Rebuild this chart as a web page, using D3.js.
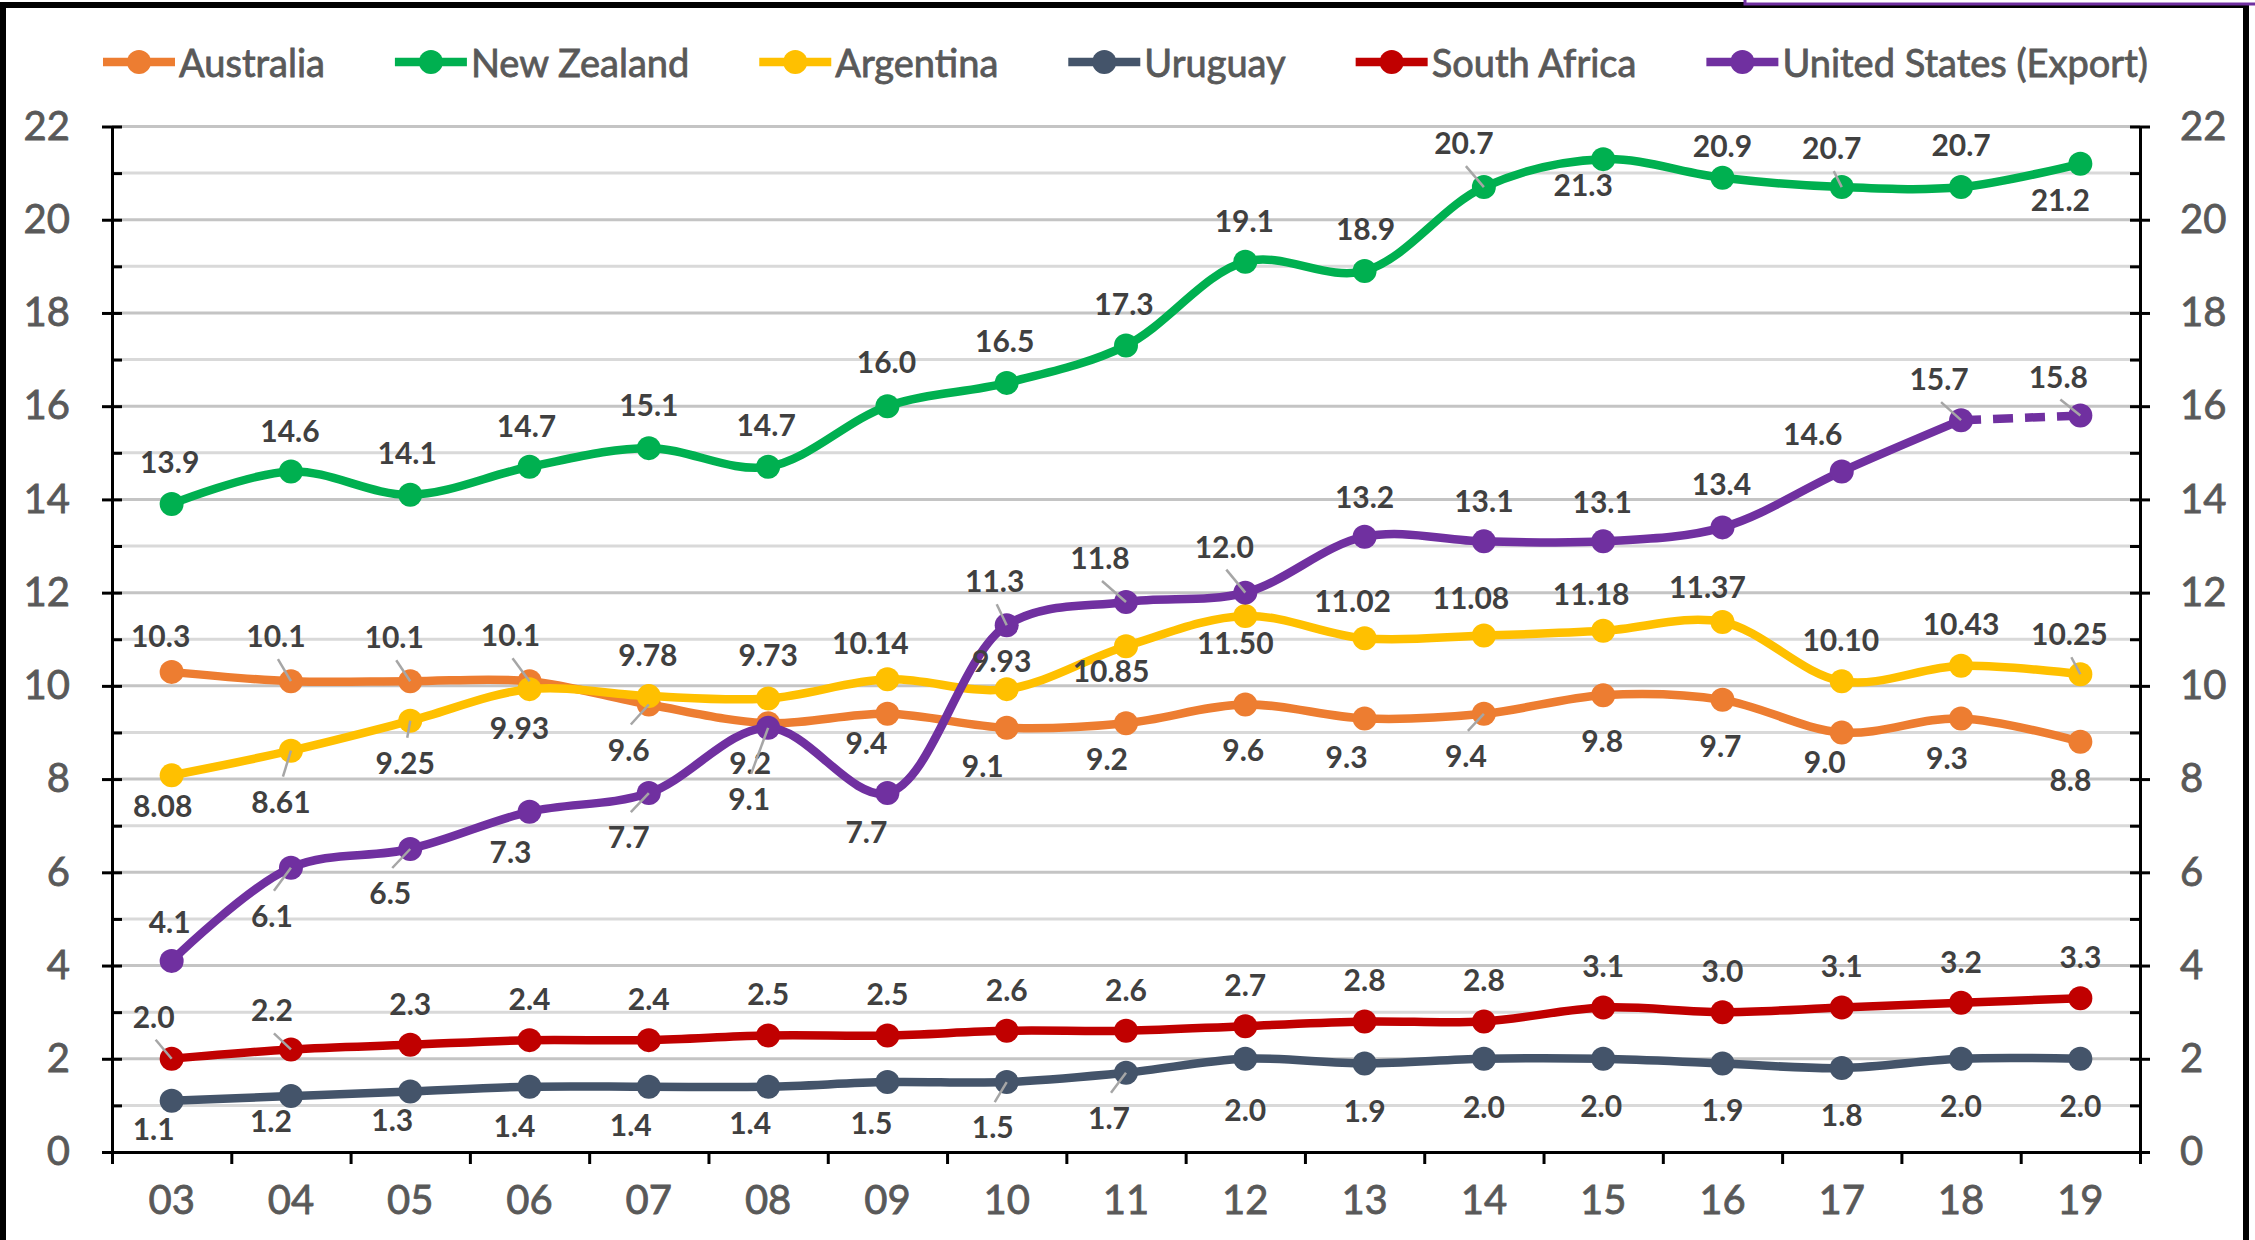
<!DOCTYPE html>
<html>
<head>
<meta charset="utf-8">
<script src="https://cdn.jsdelivr.net/npm/d3@7"></script>
<style>
  body { margin: 0; background: #fff; }
  svg { display: block; }
  text { font-family: Lato, "Open Sans", sans-serif; }
</style>
</head>
<body>
<svg id="chart" width="2255" height="1240"></svg>
<script>
// ---- data ----
const years = ['03','04','05','06','07','08','09','10','11','12','13','14','15','16','17','18','19'];
const seriesNames = ['Australia','New Zealand','Argentina','Uruguay','South Africa','United States (Export)'];
const australia   = [10.3,10.1,10.1,10.1,9.6,9.2,9.4,9.1,9.2,9.6,9.3,9.4,9.8,9.7,9.0,9.3,8.8];
const newZealand  = [13.9,14.6,14.1,14.7,15.1,14.7,16.0,16.5,17.3,19.1,18.9,20.7,21.3,20.9,20.7,20.7,21.2];
const argentina   = [8.08,8.61,9.25,9.93,9.78,9.73,10.14,9.93,10.85,11.50,11.02,11.08,11.18,11.37,10.10,10.43,10.25];
const uruguay     = [1.1,1.2,1.3,1.4,1.4,1.4,1.5,1.5,1.7,2.0,1.9,2.0,2.0,1.9,1.8,2.0,2.0];
const southAfrica = [2.0,2.2,2.3,2.4,2.4,2.5,2.5,2.6,2.6,2.7,2.8,2.8,3.1,3.0,3.1,3.2,3.3];
const unitedStates= [4.1,6.1,6.5,7.3,7.7,9.1,7.7,11.3,11.8,12.0,13.2,13.1,13.1,13.4,14.6,15.7,15.8];
// label text as printed (Argentina shows two decimals)
const labelDecimals = [1,1,2,1,1,1];
const yTicks = [0,2,4,6,8,10,12,14,16,18,20,22];

// ---- styling / label placement ----
const colors = ['#ED7D31','#00B050','#FFC000','#44546A','#C00000','#7030A0'];
// label offsets from the marker, in px
const labelOffsets = [
  [[-11,-37],[-15,-46],[-16,-45],[-19,-47],[-20,44],[-18,39],[-21,28],[-24,37],[-19,35],[-2,44],[-18,38],[-18,41],[-1,45],[-2,45],[-17,29],[-14,39],[-10,37]],
  [[-2,-43],[-1,-41],[-3,-43],[-3,-42],[0,-44],[-2,-43],[-1,-45],[-2,-43],[-2,-43],[-1,-42],[1,-43],[-20,-45],[-20,25],[0,-33],[-10,-40],[0,-43],[-20,35]],
  [[-9,30],[-10,50],[-5,41],[-10,38],[-1,-42],[0,-44],[-17,-37],[-5,-29],[-15,24],[-10,26],[-12,-38],[-13,-39],[-12,-38],[-15,-36],[-1,-42],[0,-43],[-11,-41]],
  [[-18,27],[-20,24],[-18,28],[-15,38],[-18,37],[-18,35],[-16,40],[-14,44],[-17,44],[0,50],[0,47],[0,47],[-2,46],[0,46],[0,46],[0,46],[0,46]],
  [[-18,-43],[-19,-40],[0,-42],[0,-42],[0,-42],[0,-42],[0,-42],[0,-42],[0,-42],[0,-42],[0,-42],[0,-42],[0,-42],[0,-42],[0,-42],[0,-42],[0,-42]],
  [[-2,-40],[-19,47],[-20,43],[-19,39],[-20,43],[-19,70],[-21,38],[-12,-45],[-26,-45],[-21,-47],[0,-41],[0,-41],[-1,-40],[-1,-44],[-29,-38],[-22,-42],[-22,-40]]
];
// which labels carry a leader line
const leaders = [[1,2,3,4,11],[11,14],[1,2,16],[7,8],[0,1],[1,2,4,5,7,8,9,15,16]];

const allSeries = [australia, newZealand, argentina, uruguay, southAfrica, unitedStates];

const svg = d3.select('#chart');
const W = 2255, H = 1240;
const plotLeft = 112, plotRight = 2140, plotTop = 126.5, plotBottom = 1152;

// frame
svg.append('rect').attr('x', 3).attr('y', 5).attr('width', 2243).attr('height', H + 20)
  .attr('fill', 'none').attr('stroke', '#000').attr('stroke-width', 6);
svg.append('rect').attr('x', 1745).attr('y', -20).attr('width', 600).attr('height', 24)
  .attr('fill', '#fff').attr('stroke', '#7030A0').attr('stroke-width', 3);

const x = d3.scaleBand().domain(years).range([plotLeft, plotRight]).padding(0);
const cx = d => x(d) + x.bandwidth() / 2;
const y = d3.scaleLinear().domain([0, 22]).range([plotBottom, plotTop]);

// gridlines every unit
const grid = svg.append('g');
grid.selectAll('line').data(d3.range(1, 23)).enter().append('line')
  .attr('x1', plotLeft).attr('x2', plotRight)
  .attr('y1', d => y(d)).attr('y2', d => y(d))
  .attr('stroke', d => d % 2 === 0 ? '#c4c4c4' : '#d9d9d9')
  .attr('stroke-width', 3);

function styleAxis(g) {
  g.select('.domain').attr('stroke', '#000').attr('stroke-width', 3);
  g.selectAll('.tick line').attr('stroke', '#000').attr('stroke-width', 3);
  g.selectAll('.tick text').attr('fill', '#595959').attr('stroke', '#595959').attr('stroke-width', 0.8)
    .style('font-size', '40px');
}
// y axes, major ticks cross the axis line
const yl = svg.append('g').attr('transform', `translate(${plotLeft},0)`)
  .call(d3.axisLeft(y).tickValues(yTicks).tickSizeInner(10).tickSizeOuter(0).tickPadding(32).tickFormat(d3.format('d')));
styleAxis(yl);
yl.selectAll('.tick line').attr('x1', 10);
const yr = svg.append('g').attr('transform', `translate(${plotRight},0)`)
  .call(d3.axisRight(y).tickValues(yTicks).tickSizeInner(10).tickSizeOuter(0).tickPadding(30).tickFormat(d3.format('d')));
styleAxis(yr);
yr.selectAll('.tick line').attr('x1', -10);
// minor ticks (inside only)
const minor = d3.range(1, 22, 2);
const ml = svg.append('g').attr('transform', `translate(${plotLeft},0)`)
  .call(d3.axisRight(y).tickValues(minor).tickSize(10).tickFormat(''));
styleAxis(ml); ml.select('.domain').remove();
const mr = svg.append('g').attr('transform', `translate(${plotRight},0)`)
  .call(d3.axisLeft(y).tickValues(minor).tickSize(10).tickFormat(''));
styleAxis(mr); mr.select('.domain').remove();

// x axis: labels at centres, ticks at band edges
const xl = svg.append('g').attr('transform', `translate(0,${plotBottom})`)
  .call(d3.axisBottom(x).tickSize(0).tickPadding(34));
styleAxis(xl);
xl.select('.domain').remove();
const edges = d3.scaleLinear().domain([0, years.length]).range([plotLeft, plotRight]);
const xt = svg.append('g').attr('transform', `translate(0,${plotBottom})`)
  .call(d3.axisBottom(edges).tickValues(d3.range(years.length + 1)).tickSize(12).tickSizeOuter(0).tickFormat(''));
styleAxis(xt);

// lines (smoothed like Excel)
const line = d3.line().x((d, i) => cx(years[i])).y(d => y(d)).curve(d3.curveCatmullRom.alpha(0.5));
const plot = svg.append('g');
allSeries.forEach((vals, s) => {
  const g = plot.append('g');
  const n = vals.length;
  // the last US segment is dashed
  const solid = s === 5 ? vals.slice(0, n - 1) : vals;
  g.append('path').attr('d', line(solid)).attr('fill', 'none')
    .attr('stroke', colors[s]).attr('stroke-width', 8.5).attr('stroke-linecap', 'round');
  if (s === 5) {
    g.append('path')
      .attr('d', d3.line()([[cx(years[n - 2]), y(vals[n - 2])], [cx(years[n - 1]), y(vals[n - 1])]]))
      .attr('fill', 'none').attr('stroke', colors[s]).attr('stroke-width', 8.5)
      .attr('stroke-dasharray', '20,12');
  }
  g.selectAll('circle').data(vals).enter().append('circle')
    .attr('cx', (d, i) => cx(years[i])).attr('cy', d => y(d)).attr('r', 12)
    .attr('fill', colors[s]);
});

// data labels + leader lines
const labels = svg.append('g');
allSeries.forEach((vals, s) => {
  const fmt = d3.format(`.${labelDecimals[s]}f`);
  vals.forEach((v, i) => {
    const px = cx(years[i]), py = y(v);
    const [dx, dy] = labelOffsets[s][i];
    const lx = px + dx, ly = py + dy;
    if (leaders[s].includes(i)) {
      const sy = ly - Math.sign(dy) * 24;
      labels.append('line').attr('x1', lx + 2).attr('y1', sy).attr('x2', px).attr('y2', py)
        .attr('stroke', '#a6a6a6').attr('stroke-width', 2.5);
    }
    labels.append('text').attr('x', lx).attr('y', ly)
      .attr('text-anchor', 'middle').attr('dominant-baseline', 'central')
      .attr('fill', '#404040').style('font-size', '30px').style('font-weight', 'bold')
      .text(fmt(v));
  });
});

// legend
const legend = svg.append('g').attr('transform', 'translate(103,62)');
let lxPos = 0;
seriesNames.forEach((name, s) => {
  const item = legend.append('g').attr('transform', `translate(${lxPos},0)`);
  item.append('line').attr('x1', 0).attr('x2', 72).attr('y1', 0).attr('y2', 0)
    .attr('stroke', colors[s]).attr('stroke-width', 8.5);
  item.append('circle').attr('cx', 36).attr('cy', 0).attr('r', 12).attr('fill', colors[s]);
  const t = item.append('text').attr('x', 76).attr('y', 0).attr('dominant-baseline', 'central')
    .attr('fill', '#595959').attr('stroke', '#595959').attr('stroke-width', 0.8)
    .style('font-size', '38px').text(name);
  lxPos += 76 + t.node().getComputedTextLength() + 70;
});
</script>
</body>
</html>
